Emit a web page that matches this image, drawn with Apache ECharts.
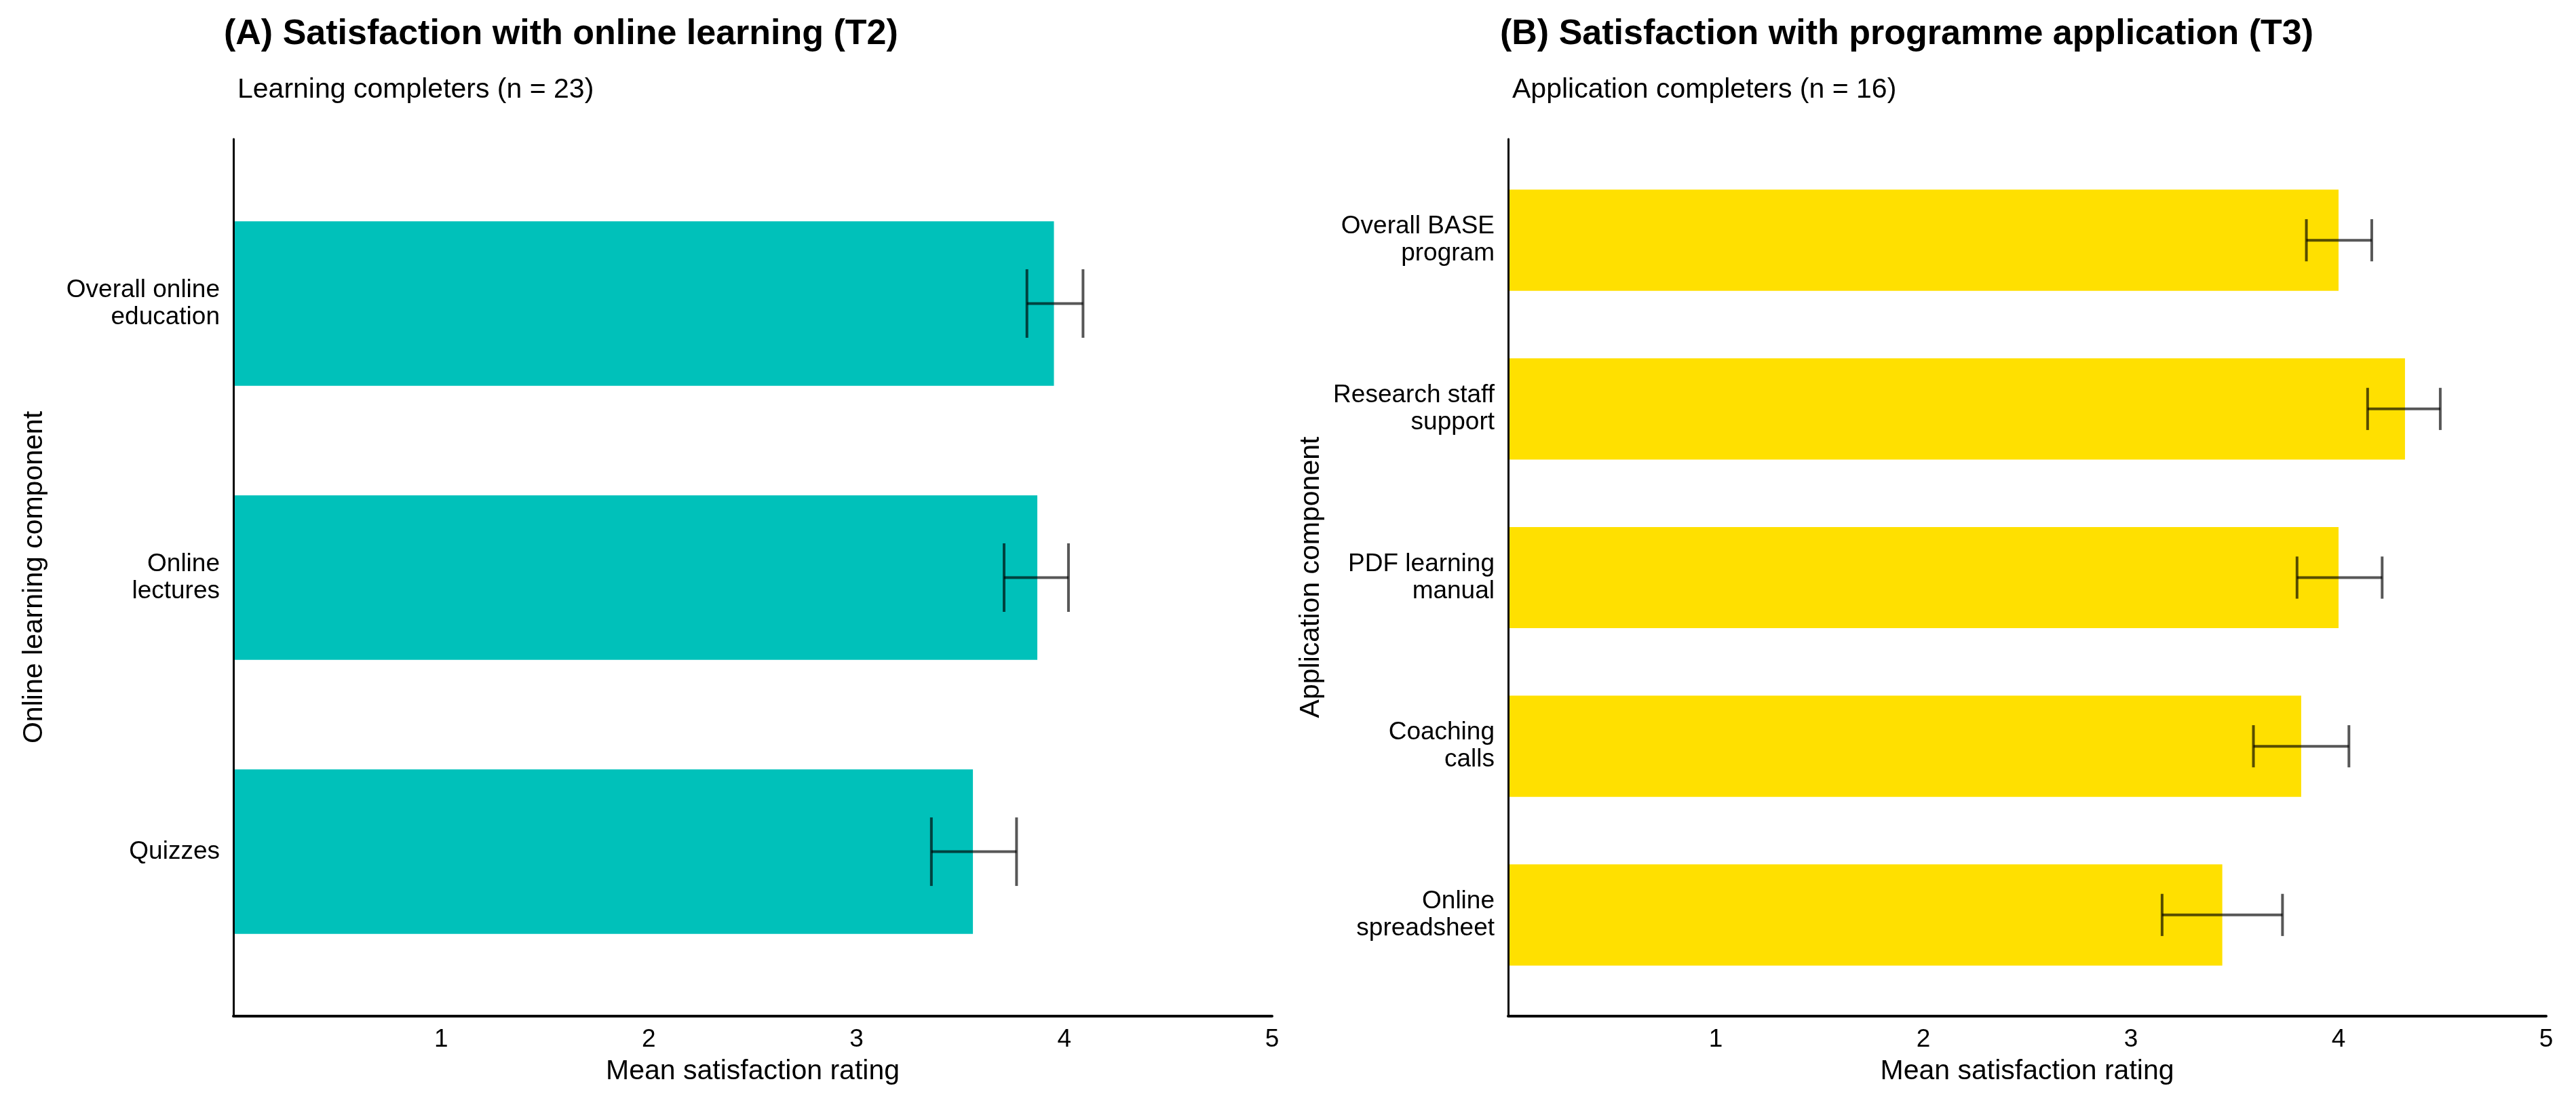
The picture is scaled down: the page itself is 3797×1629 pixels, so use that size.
<!DOCTYPE html>
<html>
<head>
<meta charset="utf-8">
<script src="https://cdn.jsdelivr.net/npm/echarts@6/dist/echarts.min.js"></script>
<style>
html,body{margin:0;padding:0;background:#fff;}
#chart{width:3797px;height:1629px;}
</style>
</head>
<body>
<div id="chart"></div>
<script>
// ---- data ----
const leftCategories = ['Overall online\neducation', 'Online\nlectures', 'Quizzes'];
const leftMeans = [3.95, 3.87, 3.56];
const leftLower = [3.82, 3.71, 3.36];
const leftUpper = [4.09, 4.02, 3.77];

const rightCategories = ['Overall BASE\nprogram', 'Research staff\nsupport', 'PDF learning\nmanual', 'Coaching\ncalls', 'Online\nspreadsheet'];
const rightMeans = [4.00, 4.32, 4.00, 3.82, 3.44];
const rightLower = [3.845, 4.14, 3.80, 3.59, 3.15];
const rightUpper = [4.16, 4.49, 4.21, 4.05, 3.73];

const xMin = 0, xMax = 5, xInterval = 1;

const titleA = '(A) Satisfaction with online learning (T2)';
const subA = 'Learning completers (n = 23)';
const titleB = '(B) Satisfaction with programme application (T3)';
const subB = 'Application completers (n = 16)';
const xTitle = 'Mean satisfaction rating';
const yTitleA = 'Online learning component';
const yTitleB = 'Application component';

// ---- layout ----
const FONT = '"Liberation Sans", Arial, Helvetica, sans-serif';
const W = 3797;
const plotTop = 205, plotH = 1293;
const L = {x0: 344, x1: 1875};
const R = {x0: 2223, x1: 3753};
function frameGrid(p) {
  return {left: p.x0, right: W - p.x1, top: plotTop, height: plotH};
}
function plotGrid(p, n) {
  const band = plotH / (n + 0.2);
  return {left: p.x0, right: W - p.x1, top: plotTop + 0.1 * band, height: n * band};
}

const chart = echarts.init(document.getElementById('chart'), null, {renderer: 'canvas'});

function frameX(gi) {
  return {
    gridIndex: gi, type: 'value', min: xMin, max: xMax, interval: xInterval, z: 10,
    axisLine: {show: true, onZero: false, lineStyle: {color: '#000', width: 4}},
    axisTick: {show: false}, splitLine: {show: false},
    axisLabel: {fontSize: 37, fontFamily: FONT, color: '#000', margin: 16,
      formatter: v => (v === 0 ? '' : String(v))}
  };
}
function hiddenX(gi) {
  return {gridIndex: gi, type: 'value', min: xMin, max: xMax, show: false};
}
function frameY(gi) {
  return {
    gridIndex: gi, type: 'value', min: 0, max: 1, z: 10,
    axisLine: {show: true, onZero: false, lineStyle: {color: '#000', width: 3}},
    axisTick: {show: false}, splitLine: {show: false}, axisLabel: {show: false}
  };
}
function catY(gi, cats) {
  return {
    gridIndex: gi, type: 'category', data: cats, inverse: true,
    axisLine: {show: false}, axisTick: {show: false}, splitLine: {show: false},
    axisLabel: {fontSize: 37, lineHeight: 40, fontFamily: FONT, color: '#000', margin: 20}
  };
}
function errRender(params, api) {
  const lo = api.value(0), ci = api.value(1), hi = api.value(2);
  const p1 = api.coord([lo, ci]);
  const p2 = api.coord([hi, ci]);
  const h = api.size([0, 1])[1] * 0.25 / 2;
  const st = {stroke: 'rgba(0,0,0,0.66)', lineWidth: 4, fill: null};
  return {
    type: 'group',
    children: [
      {type: 'line', shape: {x1: p1[0], y1: p1[1], x2: p2[0], y2: p2[1]}, style: st},
      {type: 'line', shape: {x1: p1[0], y1: p1[1] - h, x2: p1[0], y2: p1[1] + h}, style: st},
      {type: 'line', shape: {x1: p2[0], y1: p2[1] - h, x2: p2[0], y2: p2[1] + h}, style: st}
    ]
  };
}

const option = {
  backgroundColor: '#fff',
  animation: false,
  title: [
    {text: titleA, left: 325, top: 20, textStyle: {fontSize: 52, fontWeight: 'bold', fontFamily: FONT, color: '#000'}},
    {text: subA, left: 345, top: 107, textStyle: {fontSize: 41, fontWeight: 'normal', fontFamily: FONT, color: '#000'}},
    {text: titleB, left: 2206, top: 20, textStyle: {fontSize: 52, fontWeight: 'bold', fontFamily: FONT, color: '#000'}},
    {text: subB, left: 2224, top: 107, textStyle: {fontSize: 41, fontWeight: 'normal', fontFamily: FONT, color: '#000'}}
  ],
  grid: [
    frameGrid(L),
    plotGrid(L, leftCategories.length),
    frameGrid(R),
    plotGrid(R, rightCategories.length)
  ],
  xAxis: [frameX(0), hiddenX(1), frameX(2), hiddenX(3)],
  yAxis: [frameY(0), catY(1, leftCategories), frameY(2), catY(3, rightCategories)],
  series: [
    {type: 'bar', xAxisIndex: 1, yAxisIndex: 1, data: leftMeans, barWidth: '60%',
      itemStyle: {color: '#00C1BA'}, z: 2},
    {type: 'custom', xAxisIndex: 1, yAxisIndex: 1, renderItem: errRender, z: 5,
      encode: {x: [0, 2], y: 1},
      data: leftCategories.map((c, i) => [leftLower[i], i, leftUpper[i]])},
    {type: 'bar', xAxisIndex: 3, yAxisIndex: 3, data: rightMeans, barWidth: '60%',
      itemStyle: {color: '#FFE000'}, z: 2},
    {type: 'custom', xAxisIndex: 3, yAxisIndex: 3, renderItem: errRender, z: 5,
      encode: {x: [0, 2], y: 1},
      data: rightCategories.map((c, i) => [rightLower[i], i, rightUpper[i]])}
  ],
  graphic: [
    {type: 'text', x: (L.x0 + L.x1) / 2, y: 1580, style: {text: xTitle, font: '41px ' + FONT, fill: '#000', textAlign: 'center', textVerticalAlign: 'middle'}},
    {type: 'text', x: (R.x0 + R.x1) / 2, y: 1580, style: {text: xTitle, font: '41px ' + FONT, fill: '#000', textAlign: 'center', textVerticalAlign: 'middle'}},
    {type: 'text', x: 51, y: 851, rotation: Math.PI / 2, style: {text: yTitleA, font: '41px ' + FONT, fill: '#000', textAlign: 'center', textVerticalAlign: 'middle'}},
    {type: 'text', x: 1933, y: 851, rotation: Math.PI / 2, style: {text: yTitleB, font: '41px ' + FONT, fill: '#000', textAlign: 'center', textVerticalAlign: 'middle'}}
  ]
};
chart.setOption(option);
</script>
</body>
</html>
